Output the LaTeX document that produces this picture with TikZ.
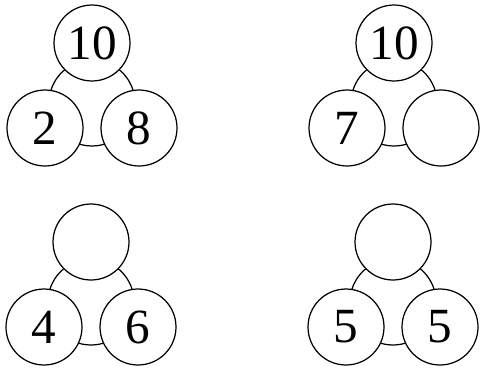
\documentclass[tikz,border=0pt]{standalone}
\usepackage{fontspec}
\setmainfont{Liberation Serif}
\tikzset{
  ball/.style={circle,draw,line width=0.7pt,fill=white,minimum size=1.52cm,inner sep=0pt,font=\fontsize{28}{30}\selectfont},
  hub/.style={circle,draw,line width=0.7pt,minimum size=1.72cm,inner sep=0pt}
}
\begin{document}
\begin{tikzpicture}[x=0.02cm,y=-0.02cm]
  \useasboundingbox (0,0) rectangle (482,368);
  \foreach \i/\gx/\gy/\top/\lft/\rgt in {1/92/0/10/2/8, 2/394/0/10/7/, 3/91/199//4/6, 4/393/199//5/5}{
    \node[hub] (m\i) at (\gx,\gy+103) {};
    \node[ball] (t\i) at (\gx,\gy+43) {\top};
    \node[ball] (l\i) at (\gx-47,\gy+128) {\lft};
    \node[ball] (r\i) at (\gx+47,\gy+128) {\rgt};
  }
\end{tikzpicture}
\end{document}
